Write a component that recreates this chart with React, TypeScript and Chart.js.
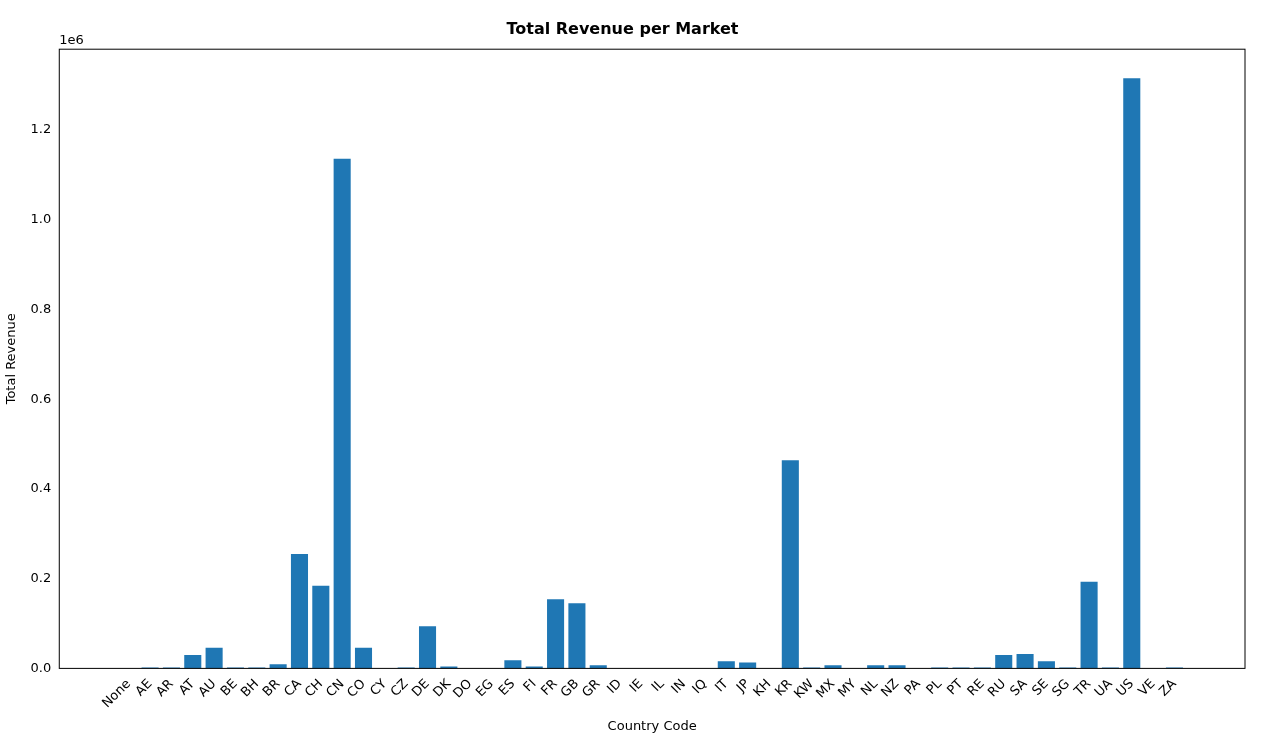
import React, { useRef, useEffect } from "react";
import { Chart, ChartConfiguration } from "chart.js/auto";

const countries = ["None", "AE", "AR", "AT", "AU", "BE", "BH", "BR", "CA", "CH", "CN", "CO", "CY", "CZ", "DE", "DK", "DO", "EG", "ES", "FI", "FR", "GB", "GR", "ID", "IE", "IL", "IN", "IQ", "IT", "JP", "KH", "KR", "KW", "MX", "MY", "NL", "NZ", "PA", "PL", "PT", "RE", "RU", "SA", "SE", "SG", "TR", "UA", "US", "VE", "ZA"];
const revenue = [0, 2000, 2000, 30000, 46000, 2000, 2000, 9000, 255000, 184000, 1136000, 46000, 0, 2000, 94000, 4000, 0, 0, 18000, 4000, 154000, 145000, 7000, 0, 0, 0, 0, 0, 16000, 13000, 0, 464000, 2000, 7000, 0, 7000, 7000, 0, 2000, 2000, 2000, 30000, 32000, 16000, 2000, 193000, 2000, 1315000, 0, 2000];
const yTicks = [0, 0.2, 0.4, 0.6, 0.8, 1.0, 1.2];

const font = { family: "DejaVu Sans", size: 13 };

const App: React.FC = () => {
  const chartRef = useRef<HTMLCanvasElement | null>(null);
  const chartInstanceRef = useRef<Chart | null>(null);

  useEffect(() => {
    document.body.style.margin = "0";
    if (!chartRef.current) return;
    const ctx = chartRef.current.getContext("2d");
    if (!ctx) return;
    if (chartInstanceRef.current) chartInstanceRef.current.destroy();

    const offsetLabel = {
      id: "offsetLabel",
      afterDraw(chart: Chart) {
        const c = chart.ctx;
        const a = chart.chartArea;
        c.save();
        c.fillStyle = "#000";
        c.font = "13px DejaVu Sans";
        c.textBaseline = "bottom";
        c.textAlign = "left";
        c.fillText("1e6", a.left, a.top - 2);
        c.strokeStyle = "#000";
        c.lineWidth = 1;
        c.strokeRect(a.left, a.top, a.right - a.left, a.bottom - a.top);
        c.restore();
      },
    };

    const config: ChartConfiguration = {
      type: "bar",
      data: {
        datasets: [
          {
            data: revenue.map((v, i) => ({ x: i, y: v / 1e6 })),
            backgroundColor: "#1f77b4",
            barPercentage: 0.8,
            categoryPercentage: 1,
          },
        ],
      },
      options: {
        animation: false,
        responsive: false,
        layout: { padding: { top: 8, right: 19, left: 0, bottom: 8 } },
        plugins: {
          legend: { display: false },
          tooltip: { enabled: false },
          title: {
            display: true,
            text: "Total Revenue per Market",
            color: "#000",
            font: { family: "DejaVu Sans", size: 16 },
            padding: { top: 12, bottom: 10 },
          },
        },
        scales: {
          x: {
            type: "linear",
            min: -2.7,
            max: 51.75,
            grid: { display: false, drawTicks: true, tickLength: 5, tickColor: "#000" },
            border: { display: false },
            afterBuildTicks: (axis: any) => {
              axis.ticks = countries.map((_, i) => ({ value: i }));
            },
            ticks: {
              autoSkip: false,
              maxRotation: 45,
              minRotation: 45,
              color: "#000",
              font,
              callback: (v: any) => countries[v as number] ?? "",
            },
            title: { display: true, text: "Country Code", color: "#000", font, padding: { top: 4 } },
          },
          y: {
            min: 0,
            max: 1.38,
            grid: { display: false, drawTicks: true, tickLength: 5, tickColor: "#000" },
            border: { display: false },
            afterBuildTicks: (axis: any) => {
              axis.ticks = yTicks.map((v) => ({ value: v }));
            },
            ticks: { color: "#000", font, callback: (v: any) => Number(v).toFixed(1) },
            title: { display: true, text: "Total Revenue", color: "#000", font, padding: { bottom: 8 } },
          },
        },
      },
      plugins: [offsetLabel],
    };
    chartInstanceRef.current = new Chart(ctx, config);
    return () => {
      if (chartInstanceRef.current) chartInstanceRef.current.destroy();
    };
  }, []);

  return (
    <div style={{ width: 1264, height: 746, background: "#fff" }}>
      <canvas ref={chartRef} width={1264} height={746}></canvas>
    </div>
  );
};

export default App;
